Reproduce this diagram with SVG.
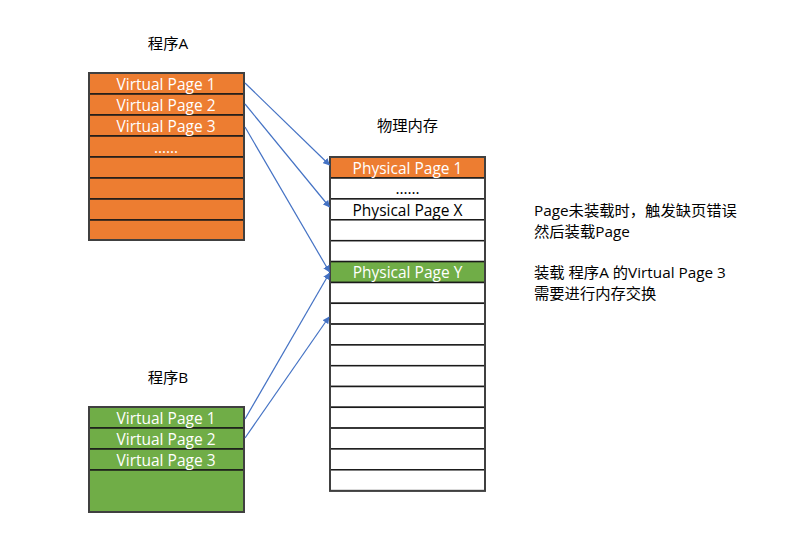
<svg xmlns="http://www.w3.org/2000/svg" width="802" height="546" viewBox="0 0 802 546">
<style>
text{font-family:"Open Sans","Noto Sans CJK SC",sans-serif;}
.t{font-size:15.3px;fill:#000;}
.cell{font-size:15.5px;text-anchor:middle;dominant-baseline:central;}
.w{fill:#fff;}
.k{fill:#000;}
.or{fill:#ED7D31;stroke:#1a1a1a;stroke-width:1.5;}
.gr{fill:#70AD47;stroke:#1a1a1a;stroke-width:1.5;}
.wh{fill:#fff;stroke:#1a1a1a;stroke-width:1.5;}
.outer{fill:none;stroke:#404040;stroke-width:2;}
.ar{stroke:#4472C4;stroke-width:1.2;fill:none;marker-end:url(#ah);}
</style>
<defs>
<marker id="ah" viewBox="0 0 10 10" refX="9" refY="5" markerWidth="7" markerHeight="7" orient="auto" markerUnits="userSpaceOnUse">
<path d="M0,0 L10,5 L0,10 z" fill="#4472C4"/>
</marker>
</defs>
<rect width="802" height="546" fill="#fff"/>

<g id="progA">
<text class="t" x="168" y="49" text-anchor="middle">程序A</text>
<rect class="or" x="89" y="73" width="155" height="21"/>
<rect class="or" x="89" y="94" width="155" height="21"/>
<rect class="or" x="89" y="115" width="155" height="21"/>
<rect class="or" x="89" y="136" width="155" height="21"/>
<rect class="or" x="89" y="157" width="155" height="21"/>
<rect class="or" x="89" y="178" width="155" height="21"/>
<rect class="or" x="89" y="199" width="155" height="21"/>
<rect class="or" x="89" y="220" width="155" height="20"/>
<rect class="outer" x="89" y="73" width="155" height="167"/>
<text class="cell w" x="166" y="83.5">Virtual Page 1</text>
<text class="cell w" x="166" y="104.5">Virtual Page 2</text>
<text class="cell w" x="166" y="125.5">Virtual Page 3</text>
<text class="cell w" x="166" y="146.5">……</text>
</g>

<g id="progB">
<text class="t" x="168" y="383" text-anchor="middle">程序B</text>
<rect class="gr" x="89" y="407" width="155" height="21"/>
<rect class="gr" x="89" y="428" width="155" height="21"/>
<rect class="gr" x="89" y="449" width="155" height="21"/>
<rect class="gr" x="89" y="470" width="155" height="42"/>
<rect class="outer" x="89" y="407" width="155" height="105"/>
<text class="cell w" x="166" y="417.5">Virtual Page 1</text>
<text class="cell w" x="166" y="438.5">Virtual Page 2</text>
<text class="cell w" x="166" y="459.5">Virtual Page 3</text>
</g>

<g id="phys">
<text class="t" x="407.5" y="131" text-anchor="middle">物理内存</text>
<rect class="or" x="330" y="157" width="155" height="21"/>
<rect class="wh" x="330" y="178" width="155" height="20.9"/>
<rect class="wh" x="330" y="198.9" width="155" height="20.9"/>
<rect class="wh" x="330" y="219.8" width="155" height="20.9"/>
<rect class="wh" x="330" y="240.7" width="155" height="20.9"/>
<rect class="gr" x="330" y="261.6" width="155" height="20.9"/>
<rect class="wh" x="330" y="282.5" width="155" height="20.8"/>
<rect class="wh" x="330" y="303.3" width="155" height="20.8"/>
<rect class="wh" x="330" y="324.1" width="155" height="20.8"/>
<rect class="wh" x="330" y="344.9" width="155" height="20.8"/>
<rect class="wh" x="330" y="365.7" width="155" height="20.8"/>
<rect class="wh" x="330" y="386.5" width="155" height="20.8"/>
<rect class="wh" x="330" y="407.3" width="155" height="20.8"/>
<rect class="wh" x="330" y="428.1" width="155" height="20.8"/>
<rect class="wh" x="330" y="448.9" width="155" height="20.9"/>
<rect class="wh" x="330" y="469.8" width="155" height="21"/>
<rect class="outer" x="330" y="157" width="155" height="333.8"/>
<text class="cell w" x="407.5" y="167.5">Physical Page 1</text>
<text class="cell k" x="407.5" y="188">……</text>
<text class="cell k" x="407.5" y="209.5">Physical Page X</text>
<text class="cell w" x="407.5" y="272">Physical Page Y</text>
</g>

<g id="notes">
<text class="t" x="534" y="216">Page未装载时，触发缺页错误</text>
<text class="t" x="534" y="237">然后装载Page</text>
<text class="t" x="534" y="278">装载 程序A 的Virtual Page 3</text>
<text class="t" x="534" y="299">需要进行内存交换</text>
</g>

<g id="connectors">
<line class="ar" x1="245" y1="83" x2="329.5" y2="165"/>
<line class="ar" x1="245" y1="104" x2="329.5" y2="207"/>
<line class="ar" x1="245" y1="127" x2="329.5" y2="272"/>
<line class="ar" x1="245" y1="419" x2="329.5" y2="273"/>
<line class="ar" x1="245" y1="438" x2="329" y2="317"/>
</g>
</svg>
